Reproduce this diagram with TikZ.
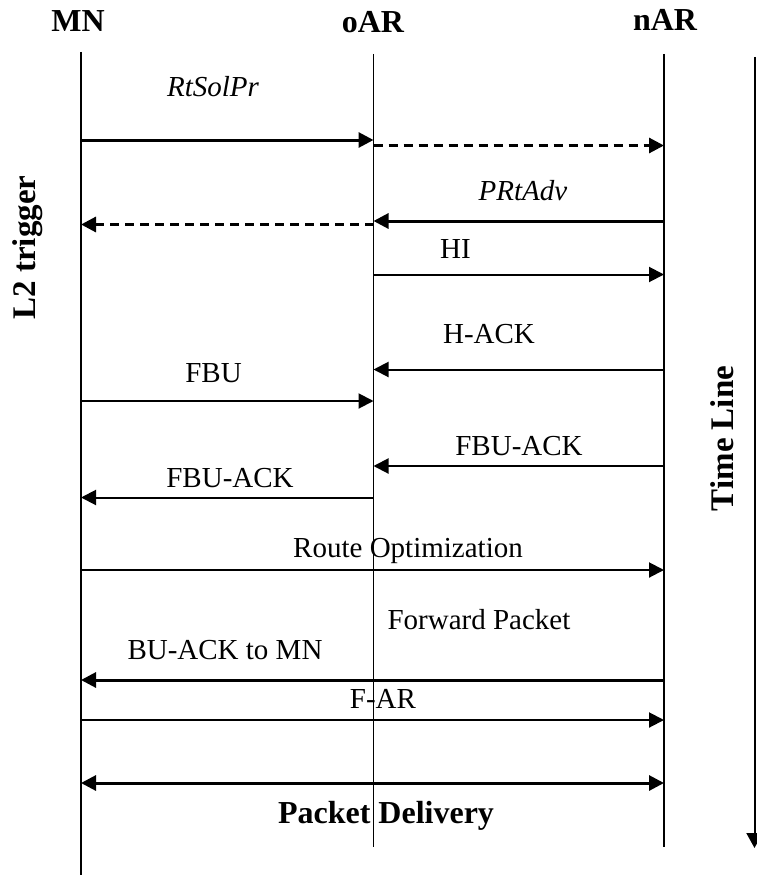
\documentclass[tikz,border=0pt]{standalone}
\usepackage{fontspec}
\setmainfont{Liberation Serif}
\usetikzlibrary{arrows.meta}
\tikzset{
 lbl/.style={font=\fontsize{29}{35}\selectfont, inner sep=0pt, anchor=base},
 ilbl/.style={font=\fontsize{29}{35}\selectfont\itshape, inner sep=0pt, anchor=base},
 hdr/.style={font=\fontsize{32}{38}\selectfont\bfseries, inner sep=0pt, anchor=base},
 side/.style={font=\fontsize{33}{40}\selectfont\bfseries, inner sep=0pt, anchor=base, rotate=90},
 life/.style={line width=1.8pt},
 tip/.style={},
 msg/.style={line width=2pt, -{Triangle[length=15pt,width=15pt]}},
 bmsg/.style={line width=3pt, -{Triangle[length=15pt,width=15pt]}},
 dmsg/.style={line width=3pt, dash pattern=on 9pt off 6pt, -{Triangle[length=15pt,width=15pt]}},
 bothmsg/.style={line width=3pt, {Triangle[length=15pt,width=15pt]}-{Triangle[length=15pt,width=15pt]}},
 tline/.style={line width=2pt, -{Triangle[length=15pt,width=16pt]}},
}
\begin{document}
\begin{tikzpicture}[x=1pt,y=-1pt]
\useasboundingbox (0,0) rectangle (756,875);
% headers
\node[hdr] (MN) at (78,32) {MN};
\node[hdr] (oAR) at (373,33) {oAR};
\node[hdr] (nAR) at (665,31) {nAR};
% lifelines
\coordinate (mnT) at (81,52);
\coordinate (mnB) at (81,875);
\coordinate (oT) at (373.5,54);
\coordinate (oB) at (373.5,847);
\coordinate (nT) at (664,54);
\coordinate (nB) at (664,847);
\draw[life] (mnT) -- (mnB);
\draw[life] (oT) -- (oB);
\draw[life] (nT) -- (nB);
% time line
\coordinate (tT) at (754.5,57);
\coordinate (tB) at (754.5,848);
\draw[tline] (tT) -- (tB);
% side labels
\node[side] (l2) at (35,247.5) {L2 trigger};
\node[side] (tl) at (733,438.5) {Time Line};
% messages
\node[ilbl] (rts) at (213,96.5) {RtSolPr};
\draw[bmsg] (mnT |- 0,140) -- (oT |- 0,140);
\draw[dmsg] (oT |- 0,145.5) -- (nT |- 0,145.5);

\node[ilbl] (pra) at (523,200) {PRtAdv};
\draw[bmsg] (nT |- 0,221) -- (oT |- 0,221);
\draw[dmsg] (oT |- 0,224.5) -- (mnT |- 0,224.5);

\node[lbl] (hi) at (455.5,258) {HI};
\draw[msg] (oT |- 0,274.5) -- (nT |- 0,274.5);

\node[lbl] (hack) at (489,343) {H-ACK};
\draw[msg] (nT |- 0,369.5) -- (oT |- 0,369.5);

\node[lbl] (fbu) at (213.5,382) {FBU};
\draw[msg] (mnT |- 0,401) -- (oT |- 0,401);

\node[lbl] (fbuack1) at (519,455) {FBU-ACK};
\draw[msg] (nT |- 0,466) -- (oT |- 0,466);

\node[lbl] (fbuack2) at (230,487) {FBU-ACK};
\draw[msg] (oT |- 0,497.5) -- (mnT |- 0,497.5);

\node[lbl] (ro) at (408,557) {Route Optimization};
\draw[msg] (mnT |- 0,570) -- (nT |- 0,570);

\node[lbl] (fp) at (479,629) {Forward Packet};

\node[lbl] (buack) at (225,659) {BU-ACK to MN};
\draw[bmsg] (nT |- 0,680) -- (mnT |- 0,680);

\node[lbl] (far) at (383,708) {F-AR};
\draw[msg] (mnT |- 0,720) -- (nT |- 0,720);

\draw[bothmsg] (mnT |- 0,783) -- (nT |- 0,783);
\node[hdr] (pd) at (386,823) {Packet Delivery};
\end{tikzpicture}
\end{document}
